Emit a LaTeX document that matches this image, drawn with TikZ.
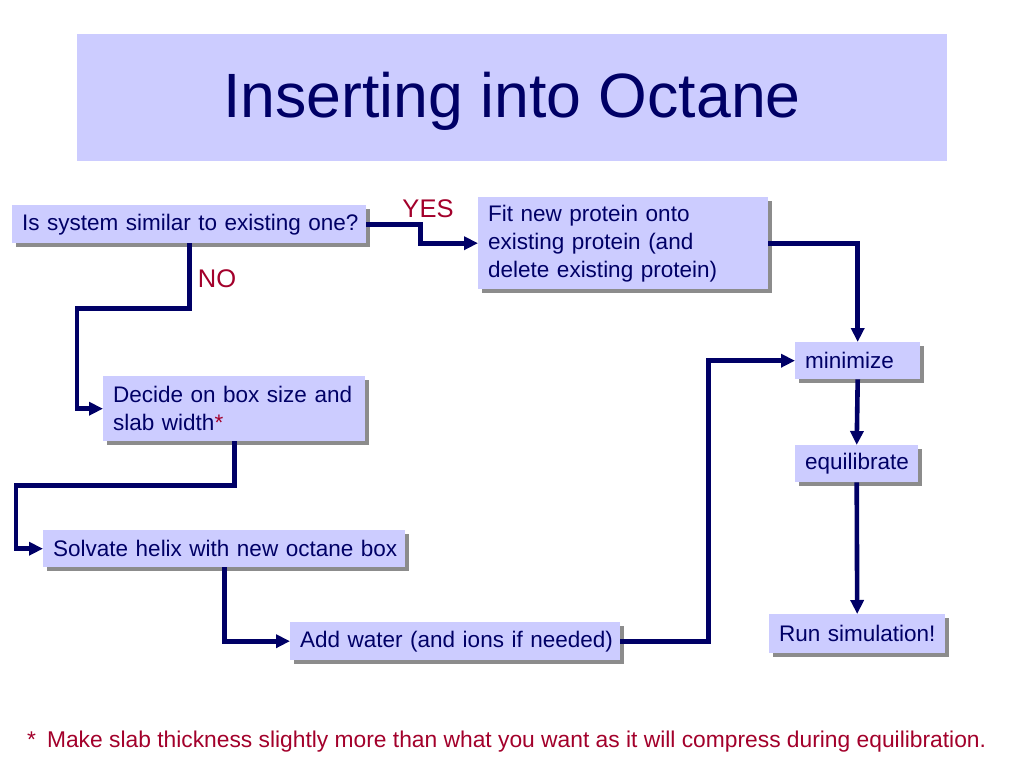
\documentclass[tikz,border=0pt]{standalone}
\usepackage{fontspec}
\setmainfont{Liberation Sans}
\usetikzlibrary{arrows.meta,shadows,calc}
\definecolor{navy}{HTML}{000066}
\definecolor{boxfill}{HTML}{CCCCFF}
\definecolor{lbred}{HTML}{A3002B}
\begin{document}
\begin{tikzpicture}[x=1pt,y=-1pt,
  flowbox/.style={fill=boxfill, draw=none, text=navy, anchor=north west, align=left,
    inner xsep=10pt, inner ysep=0pt,
    font=\fontsize{22.5}{28}\selectfont,
    drop shadow={shadow xshift=4pt, shadow yshift=-4pt, fill=black!50, opacity=0.9}},
  conn/.style={draw=navy, line width=4.6pt},
  arr/.style={conn, -{Triangle[length=14pt,width=13pt]}},
  lbl/.style={text=lbred, font=\fontsize{25.5}{28}\selectfont, inner sep=0pt}]
\useasboundingbox[fill=white] (0,0) rectangle (1024,768);
% title
\node[fill=boxfill, minimum width=870pt, minimum height=127pt, anchor=north west, inner sep=0pt] (titlebox) at (77,34) {};
\node[text=navy, font=\fontsize{62.6}{70}\selectfont, inner sep=0pt] (title) at (512,101) {Inserting into Octane};
% boxes
\node[flowbox, text width=334pt, minimum height=38pt] (q) at (12,205) {\mbox{Is system similar to existing one?}};
\node[flowbox, text width=270pt, minimum height=92pt] (fit) at (478,197) {Fit new protein onto\\existing protein (and\\delete existing protein)};
\node[flowbox, text width=242pt, minimum height=65pt] (dec) at (103,376) {Decide on box size and\\slab width\textcolor{lbred}{*}};
\node[flowbox, text width=342pt, minimum height=37pt] (solv) at (43,530) {\mbox{Solvate helix with new octane box}};
\node[flowbox, text width=310pt, minimum height=38pt] (add) at (290,622) {\mbox{Add water (and ions if needed)}};
\node[flowbox, text width=105pt, minimum height=37pt] (mini) at (795,342) {\mbox{minimize}};
\node[flowbox, text width=103pt, minimum height=37pt] (eq) at (795,445) {\mbox{equilibrate}};
\node[flowbox, text width=156pt, minimum height=39pt] (run) at (769,614) {\mbox{Run simulation!}};
% labels
\node[lbl] (yes) at (428,209) {YES};
\node[lbl] (no) at (217,279) {NO};
% connectors
\draw[arr] (q.east) -- ++(54,0) |- (fit.west);
\draw[arr] (q.south) -- ++(0,65) -| ([xshift=-26pt]dec.west) -- (dec.west);
\draw[arr] (dec.south) -- ++(0,44) -| ([xshift=-27pt]solv.west) -- (solv.west);
\draw[arr] (solv.south) |- (add.west);
\draw[arr] (add.east) -- ++(88,0) |- (mini.west);
\draw[arr] (fit.east) -| (mini.north);
\draw[arr] (mini.south) -- (eq.north);
\draw[arr] (eq.south) -- (run.north);
% footnote
\node[text=lbred, font=\fontsize{22.8}{26}\selectfont, anchor=west, inner sep=0pt] (foot) at (27,742) {*\hspace{11pt}Make slab thickness slightly more than what you want as it will compress during equilibration.};
\end{tikzpicture}
\end{document}
